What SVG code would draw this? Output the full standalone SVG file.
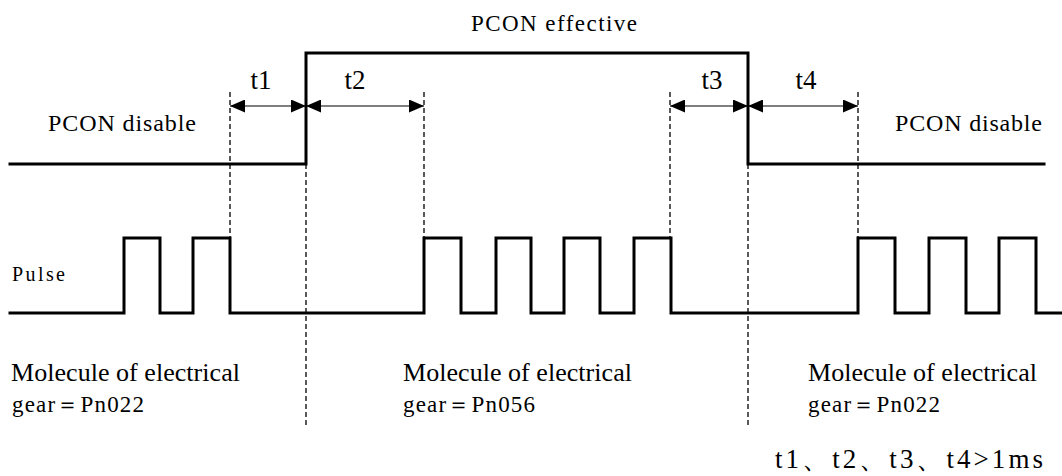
<svg xmlns="http://www.w3.org/2000/svg" width="1062" height="476" viewBox="0 0 1062 476">
<style>
.sig{fill:none;stroke:#000;stroke-width:3;stroke-linejoin:miter;stroke-linecap:square}
.dash{fill:none;stroke:#000;stroke-width:1.3;stroke-dasharray:5,3}
.dim{fill:none;stroke:#000;stroke-width:1.2;marker-start:url(#ah);marker-end:url(#ah)}
.tx{font-family:"Liberation Serif",serif;fill:#000}
</style>
<defs>
<marker id="ah" viewBox="0 0 15 13" refX="15" refY="6.5" markerWidth="15" markerHeight="13" markerUnits="userSpaceOnUse" orient="auto-start-reverse">
<path d="M0,0 L15,6.5 L0,13 Z" fill="#000"/>
</marker>
</defs>
<g id="pcon-signal">
<polyline class="sig" points="10,164 306,164 306,53 748,53 748,164 1044,164"/>
</g>
<g id="pulse-signal">
<polyline class="sig" points="10,313 124,313 124,238 160,238 160,313 193,313 193,238 230,238 230,313 424,313 424,238 461,238 461,313 496,313 496,238 531,238 531,313 564,313 564,238 600,238 600,313 634,313 634,238 671,238 671,313 858,313 858,238 895,238 895,313 929,313 929,238 966,238 966,313 999,313 999,238 1036,238 1036,313 1061,313"/>
</g>
<g id="connectors">
<line class="dash" x1="230" y1="92" x2="230" y2="238"/>
<line class="dash" x1="306" y1="164" x2="306" y2="425"/>
<line class="dash" x1="424" y1="92" x2="424" y2="238"/>
<line class="dash" x1="670" y1="92" x2="670" y2="238"/>
<line class="dash" x1="748" y1="164" x2="748" y2="425"/>
<line class="dash" x1="858" y1="92" x2="858" y2="238"/>
<line class="dim" x1="230" y1="106" x2="306" y2="106"/>
<line class="dim" x1="306" y1="106" x2="424" y2="106"/>
<line class="dim" x1="670" y1="106" x2="748" y2="106"/>
<line class="dim" x1="748" y1="106" x2="858" y2="106"/>
</g>
<g id="labels">
<text class="tx" x="471" y="31" font-size="23" textLength="166" lengthAdjust="spacing">PCON effective</text>
<text class="tx" x="261" y="89" font-size="27" text-anchor="middle">t1</text>
<text class="tx" x="355" y="89" font-size="27" text-anchor="middle">t2</text>
<text class="tx" x="712" y="89" font-size="27" text-anchor="middle">t3</text>
<text class="tx" x="806" y="89" font-size="27" text-anchor="middle">t4</text>
<text class="tx" x="48" y="131" font-size="24" textLength="148" lengthAdjust="spacing">PCON disable</text>
<text class="tx" x="895" y="131" font-size="24" textLength="147" lengthAdjust="spacing">PCON disable</text>
<text class="tx" x="12" y="281" font-size="20" textLength="53" lengthAdjust="spacing">Pulse</text>
<text class="tx" x="11" y="381" font-size="26" textLength="229" lengthAdjust="spacing">Molecule of electrical</text>
<text class="tx" x="12" y="412" font-size="23" textLength="132" lengthAdjust="spacing">gear＝Pn022</text>
<text class="tx" x="403" y="381" font-size="26" textLength="229" lengthAdjust="spacing">Molecule of electrical</text>
<text class="tx" x="403" y="412" font-size="23" textLength="132" lengthAdjust="spacing">gear＝Pn056</text>
<text class="tx" x="808" y="381" font-size="26" textLength="229" lengthAdjust="spacing">Molecule of electrical</text>
<text class="tx" x="808" y="412" font-size="23" textLength="132" lengthAdjust="spacing">gear＝Pn022</text>
<text class="tx" x="775" y="468" font-size="27" textLength="268" lengthAdjust="spacing">t1、t2、t3、t4&gt;1ms</text>
</g>
</svg>
